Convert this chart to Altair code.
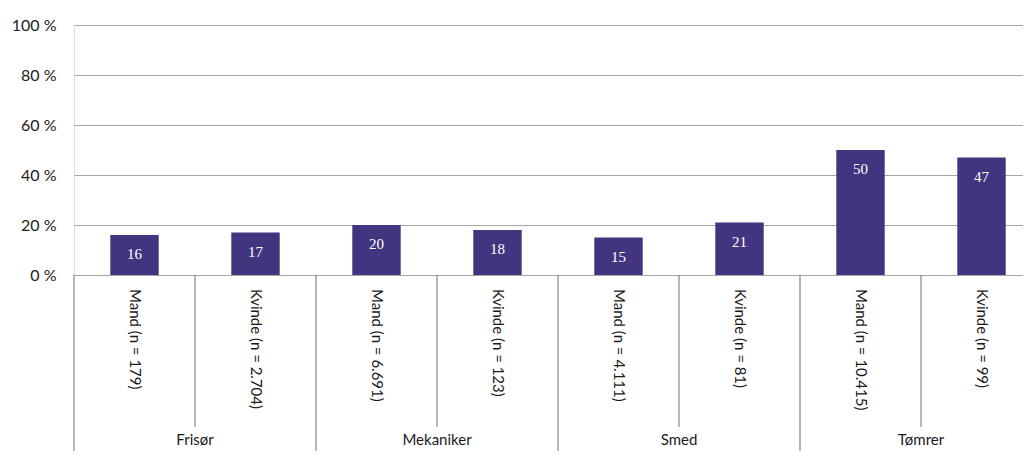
import altair as alt
import pandas as pd

groups = ["Frisør", "Frisør", "Mekaniker", "Mekaniker", "Smed", "Smed", "Tømrer", "Tømrer"]
genders = ["Mand", "Kvinde", "Mand", "Kvinde", "Mand", "Kvinde", "Mand", "Kvinde"]
n_labels = ["179", "2.704", "6.691", "123", "4.111", "81", "10.415", "99"]
values = [16, 17, 20, 18, 15, 21, 50, 47]
y_ticks = [0, 20, 40, 60, 80, 100]

group_names = ["Frisør", "Mekaniker", "Smed", "Tømrer"]

W = 949
H = 250
SLOT = 121.0
XMAX = W / SLOT

df = pd.DataFrame({
    "group": groups,
    "gender": genders,
    "n": n_labels,
    "value": values,
})
df["pos"] = [i + 0.5 for i in range(len(df))]
df["x0"] = df["pos"] - 0.2
df["x1"] = df["pos"] + 0.2
df["zero"] = 0
df["label"] = df["gender"] + " (n = " + df["n"] + ")"

gdf = pd.DataFrame({"group": group_names})
gdf["center"] = [2 * i + 1.0 for i in range(len(gdf))]
gdf["start"] = [2 * i + 0.0 for i in range(len(gdf))]

FONT = "Lato"
BAR = "#41357f"
GRID = "#a6a6a6"
SEP = "#6e6e6e"

xs = alt.Scale(domain=[0, XMAX], nice=False, zero=False)
ys = alt.Scale(domain=[0, 100], nice=False)

bars = alt.Chart(df).mark_bar(color=BAR).encode(
    x=alt.X("x0:Q", scale=xs, axis=None),
    x2="x1:Q",
    y=alt.Y("value:Q", scale=ys, axis=alt.Axis(
        values=y_ticks, grid=True, gridColor=GRID, gridWidth=1, ticks=False, domain=False,
        labelExpr="datum.value + ' %'", labelFont=FONT, labelFontSize=16, labelColor="#222222",
        labelPadding=18, title=None)),
    y2="zero:Q",
)

vals = alt.Chart(df).mark_text(color="white", font="Liberation Serif", fontSize=15,
                               baseline="middle", dy=19).encode(
    x=alt.X("pos:Q", scale=xs),
    y=alt.Y("value:Q", scale=ys),
    text="value:Q",
)

ticklabels = alt.Chart(df).mark_text(angle=90, align="left", baseline="middle", font=FONT,
                                     fontSize=15, color="#1a1a1a").encode(
    x=alt.X("pos:Q", scale=xs),
    y=alt.value(H + 14),
    text="label:N",
)

short_sep = alt.Chart(gdf).mark_rule(color=SEP, strokeWidth=1).encode(
    x=alt.X("center:Q", scale=xs),
    y=alt.value(H),
    y2=alt.value(H + 152),
)

long_sep = alt.Chart(gdf).mark_rule(color=SEP, strokeWidth=1).encode(
    x=alt.X("start:Q", scale=xs),
    y=alt.value(H),
    y2=alt.value(H + 180),
)

glabels = alt.Chart(gdf).mark_text(font=FONT, fontSize=15, color="#1a1a1a",
                                   baseline="middle").encode(
    x=alt.X("center:Q", scale=xs),
    y=alt.value(H + 165),
    text="group:N",
)

chart = alt.layer(bars, vals, ticklabels, short_sep, long_sep, glabels).properties(
    width=W, height=H,
    padding={"left": 66, "top": 17, "right": 0, "bottom": 176},
    autosize=alt.AutoSizeParams(type="none"),
).configure_view(stroke=None).configure(background="white")

chart.save("out.html", embed_options={"renderer": "svg", "actions": False})
